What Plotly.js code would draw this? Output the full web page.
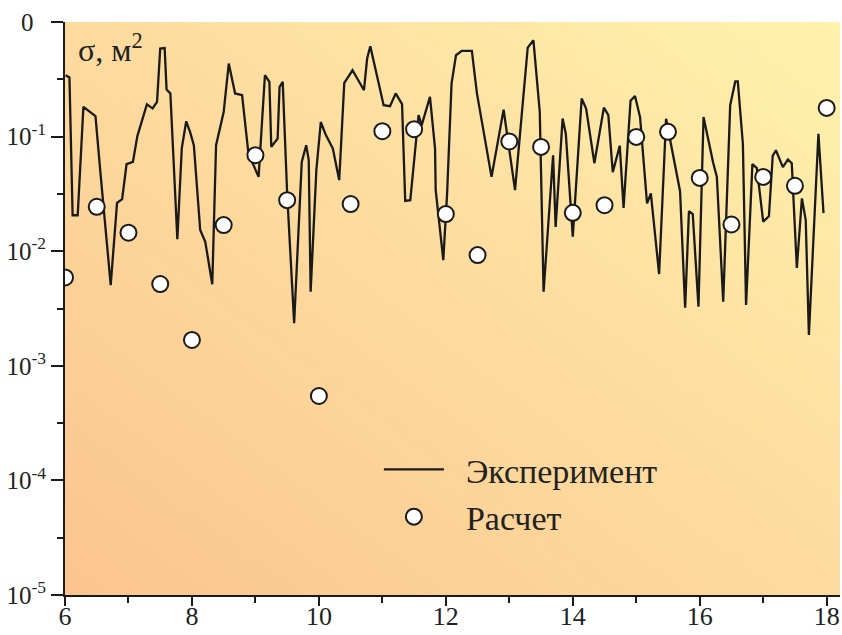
<!DOCTYPE html>
<html>
<head>
<meta charset="utf-8">
<script src="https://cdn.plot.ly/plotly-3.0.1.min.js"></script>
<style>
  html, body { margin: 0; padding: 0; background: #ffffff; }
  #wrap { position: relative; width: 842px; height: 635px; }
  #bg { position: absolute; left: 65px; top: 22px; width: 775px; height: 573px;
        background: linear-gradient(to top right, #FBC48E 0%, #FDDB9E 50%, #FFF2AD 100%); }
  #chart { position: absolute; left: 0; top: 0; width: 842px; height: 635px; }
</style>
</head>
<body>
<div id="wrap"><div id="bg"></div><div id="chart"></div></div>
<script>
// Experiment (line)
const expX = [6.01,6.07,6.12,6.20,6.29,6.48,6.55,6.72,6.82,6.90,6.97,7.07,7.14,7.29,7.38,7.45,7.50,7.57,7.60,7.66,
  7.77,7.84,7.91,7.97,8.03,8.13,8.21,8.32,8.38,8.50,8.58,8.68,8.79,8.89,9.05,9.15,9.22,9.25,9.35,9.38,
  9.43,9.50,9.61,9.73,9.80,9.84,9.87,9.96,10.03,10.11,10.22,10.32,10.40,10.53,10.71,10.76,10.81,10.89,11.02,11.12,
  11.21,11.31,11.36,11.44,11.57,11.62,11.75,11.83,11.84,11.96,12.02,12.09,12.16,12.25,12.41,12.49,12.72,12.91,13.09,13.29,
  13.38,13.48,13.54,13.69,13.73,13.84,13.89,14.00,14.14,14.21,14.34,14.49,14.56,14.63,14.74,14.80,14.91,14.98,15.06,15.17,
  15.23,15.36,15.47,15.69,15.77,15.83,15.89,15.98,16.06,16.21,16.27,16.37,16.48,16.56,16.60,16.68,16.73,16.83,16.90,17.00,
  17.09,17.15,17.20,17.31,17.39,17.45,17.53,17.61,17.67,17.72,17.87,17.95];
const expY = [0.343,0.328,0.0206,0.0206,0.182,0.151,0.0544,0.00506,0.0264,0.0285,0.0575,0.0602,0.101,0.191,0.176,0.201,0.586,0.593,0.257,0.238,
  0.0127,0.0792,0.136,0.110,0.0841,0.0153,0.0121,0.00514,0.0841,0.164,0.434,0.238,0.230,0.0712,0.0445,0.343,0.300,0.0813,0.0963,0.271,
  0.300,0.0319,0.00235,0.0602,0.0841,0.0623,0.00443,0.0510,0.134,0.103,0.0787,0.0417,0.294,0.379,0.254,0.480,0.614,0.393,0.188,0.184,
  0.238,0.192,0.0275,0.0279,0.154,0.126,0.222,0.0787,0.0341,0.00837,0.0319,0.290,0.513,0.559,0.559,0.238,0.0445,0.172,0.0341,0.598,
  0.693,0.164,0.00443,0.0688,0.0163,0.144,0.106,0.0134,0.215,0.176,0.0586,0.179,0.154,0.0489,0.0833,0.0238,0.206,0.226,0.148,0.0261,
  0.0319,0.00632,0.143,0.0334,0.00322,0.0223,0.0211,0.00328,0.148,0.0598,0.0445,0.00362,0.188,0.303,0.303,0.0858,0.00339,0.0575,0.0532,0.0181,
  0.0202,0.0678,0.0761,0.0541,0.0632,0.0586,0.00715,0.0289,0.0187,0.00186,0.106,0.0215];

// Calculation (circles)
const calcX = [6,6.5,7,7.5,8,8.5,9,9.5,10,10.5,11,11.5,12,12.5,13,13.5,14,14.5,15,15.5,16,16.5,17,17.5,18];
const calcY = [0.0059,0.0244,0.0145,0.00517,0.00168,0.0169,0.0688,0.0279,0.000545,0.0258,0.1115,0.116,0.0211,0.00925,0.0907,
  0.0813,0.0216,0.0252,0.0994,0.110,0.0436,0.0171,0.0445,0.0372,0.178];

const yTickVals = [1e-5,1e-4,1e-3,1e-2,1e-1,1];
const yTickText = ['10<sup>-5</sup>','10<sup>-4</sup>','10<sup>-3</sup>','10<sup>-2</sup>','10<sup>-1</sup>','0\u00A0\u00A0'];
const yMinorVals = [Math.pow(10,-4.5),Math.pow(10,-3.5),Math.pow(10,-2.5),Math.pow(10,-1.5),Math.pow(10,-0.5)];
const xTickVals = [6,8,10,12,14,16,18];
const xMinorVals = [7,9,11,13,15,17];

const serif = '"Liberation Serif", "Times New Roman", serif';
const ink = '#1a1a1a';
const pad = '\u00A0\u00A0';

const traces = [
  { x: expX, y: expY, mode: 'lines', name: pad + 'Эксперимент',
    line: { color: ink, width: 2.3 } },
  { x: calcX, y: calcY, mode: 'markers', name: pad + 'Расчет',
    marker: { size: 16, color: '#ffffff', line: { color: ink, width: 2 } } }
];

const layout = {
  width: 842, height: 635,
  margin: { l: 65, r: 2, t: 22, b: 40 },
  paper_bgcolor: 'rgba(0,0,0,0)', plot_bgcolor: 'rgba(0,0,0,0)',
  font: { family: serif, color: ink },
  showlegend: true,
  legend: { x: 0.405, y: 0.269, xanchor: 'left', yanchor: 'top',
    bgcolor: 'rgba(0,0,0,0)', itemwidth: 60,
    font: { family: serif, size: 34, color: '#222' } },
  xaxis: { type: 'linear', range: [6, 18.21], tickmode: 'array', tickvals: xTickVals,
    showline: true, linecolor: ink, linewidth: 2, ticks: 'outside', ticklen: 9, tickwidth: 2, tickcolor: ink,
    ticklabelstandoff: -12,
    minor: { tickmode: 'array', tickvals: xMinorVals, ticks: 'outside', ticklen: 6, tickwidth: 2, tickcolor: ink },
    showgrid: false, zeroline: false,
    tickfont: { family: serif, size: 26, color: '#222' } },
  yaxis: { type: 'log', range: [-5, 0], tickmode: 'array', tickvals: yTickVals, ticktext: yTickText,
    showline: true, linecolor: ink, linewidth: 2, ticks: 'outside', ticklen: 12, tickwidth: 2, tickcolor: ink,
    minor: { tickmode: 'array', tickvals: yMinorVals, ticks: 'outside', ticklen: 6, tickwidth: 2, tickcolor: ink },
    showgrid: false, zeroline: false,
    tickfont: { family: serif, size: 25, color: '#222' } },
  annotations: [
    { xref: 'paper', yref: 'paper', x: 0.014, y: 0.955, xanchor: 'left', yanchor: 'middle',
      text: 'σ, м<sup>2</sup>', showarrow: false, font: { family: serif, size: 32, color: '#222' } }
  ]
};

Plotly.newPlot('chart', traces, layout, { displayModeBar: false, staticPlot: true });
</script>
</body>
</html>
